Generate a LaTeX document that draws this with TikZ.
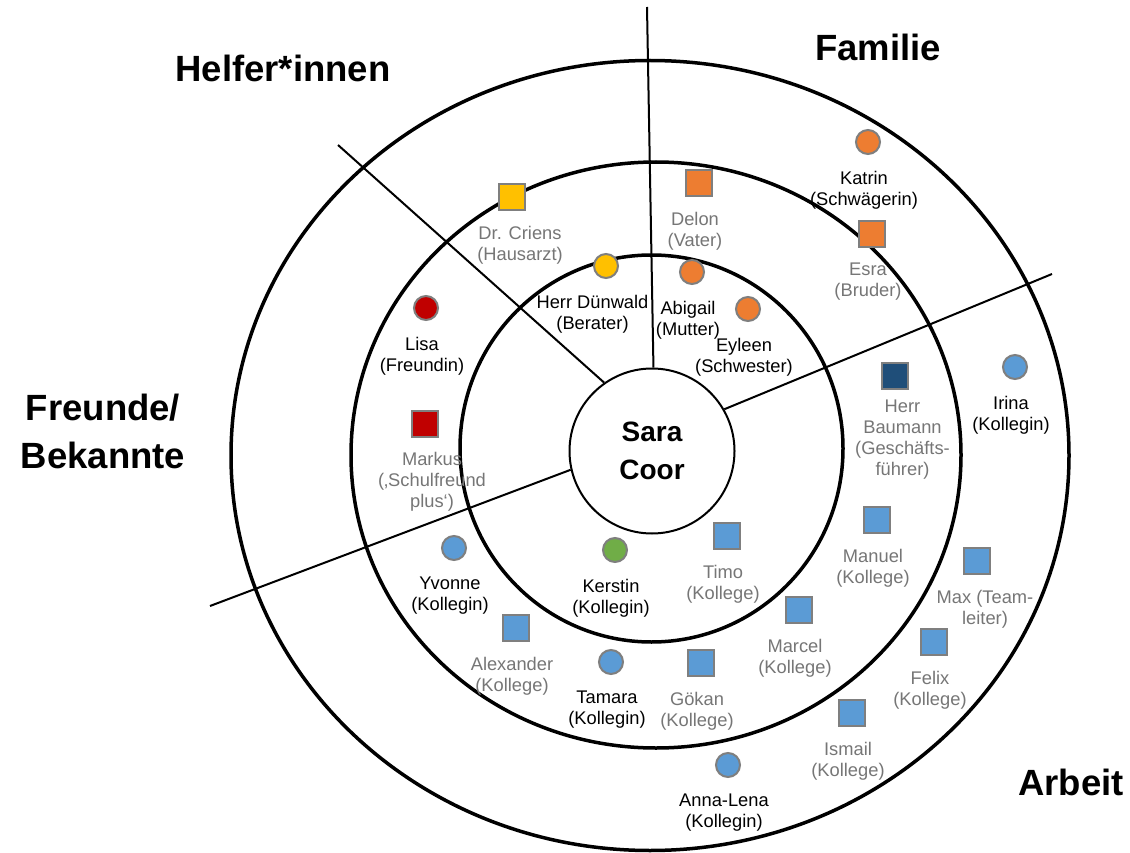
\documentclass[tikz,border=0pt]{standalone}
\usepackage{fontspec}
\setmainfont{Liberation Sans}
\definecolor{famorange}{HTML}{ED7D31}
\definecolor{helpyellow}{HTML}{FFC000}
\definecolor{friendred}{HTML}{C00000}
\definecolor{workblue}{HTML}{5B9BD5}
\definecolor{bossblue}{HTML}{1F4E79}
\definecolor{kerstingreen}{HTML}{70AD47}
\definecolor{outlinegray}{HTML}{7F7F7F}
\definecolor{labelgray}{HTML}{767676}

\begin{document}
\begin{tikzpicture}[
    x=1pt, y=-1pt,
    node distance=48pt,
    ring/.style={draw, line width=3.5pt},
    divider/.style={draw, line width=2pt},
    person circle/.style={circle, draw=outlinegray, line width=2pt, minimum size=24pt, inner sep=0pt},
    person square/.style={rectangle, draw=outlinegray, line width=2pt, minimum size=26.5pt, inner sep=0pt},
    name label/.style={align=center, inner sep=0pt, xshift=-4pt, font=\fontsize{18.3}{21}\selectfont},
    gray label/.style={name label, text=labelgray},
    heading/.style={align=center, inner sep=0pt, font=\fontsize{36.5}{48}\selectfont\bfseries}]

  \path[use as bounding box, fill=white] (0,0) rectangle (1130,853);

  \draw[ring] (651.5,448.5) ellipse [x radius=191.5, y radius=193.5];
  \draw[ring] (656,455) ellipse [x radius=305, y radius=293];
  \draw[ring] (650,455.5) ellipse [x radius=419, y radius=395];

  \node[circle, draw, line width=2pt, fill=white, minimum size=165pt, inner sep=0pt,
        align=center, font=\fontsize{28}{38}\selectfont\bfseries] (SaraCoor) at (652,451) {Sara\\Coor};

  \coordinate (FamilieEnd) at (647,7);
  \coordinate (HelferEnd) at (338,145);
  \coordinate (ArbeitEnd) at (1052,274);
  \coordinate (FreundeEnd) at (210,606);

  \path[divider]
    (SaraCoor.89) edge (FamilieEnd)
    (SaraCoor.125) edge (HelferEnd)
    (SaraCoor.30) edge (ArbeitEnd)
    (SaraCoor.193) edge (FreundeEnd);

  \node[heading] (HelferHeading) at (283,68) {Helfer*innen};
  \node[heading] (FamilieHeading) at (878,47) {Familie};
  \node[heading] (FreundeHeading) at (103,431) {Freunde/\\Bekannte};
  \node[heading] (ArbeitHeading) at (1071,782) {Arbeit};

  \node[person square, fill=helpyellow] (Criens) at (512,197) {};
  \node[gray label, xshift=12pt] (CriensText) [below of=Criens] {Dr. Criens\\(Hausarzt)};
  \node[person circle, fill=helpyellow] (Duenwald) at (606,266) {};
  \node[name label, xshift=-9.5pt] (DuenwaldText) [below of=Duenwald] {Herr Dünwald\\(Berater)};

  \node[person circle, fill=friendred] (Lisa) at (426,308) {};
  \node[name label] (LisaText) [below of=Lisa] {Lisa\\(Freundin)};
  \node[person square, fill=friendred] (Markus) at (425,424) {};
  \node[gray label, node distance=58pt, xshift=11pt] (MarkusText) [below of=Markus] {Markus\\(‚Schulfreund\\plus‘)};

  \node[person circle, fill=famorange] (Katrin) at (868,142) {};
  \node[name label] (KatrinText) [below of=Katrin] {Katrin\\(Schwägerin)};
  \node[person square, fill=famorange] (Delon) at (699,183) {};
  \node[gray label] (DelonText) [below of=Delon] {Delon\\(Vater)};
  \node[person square, fill=famorange] (Esra) at (872,234) {};
  \node[gray label] (EsraText) [below of=Esra] {Esra\\(Bruder)};
  \node[person circle, fill=famorange] (Abigail) at (692,272) {};
  \node[name label] (AbigailText) [below of=Abigail] {Abigail\\(Mutter)};
  \node[person circle, fill=famorange] (Eyleen) at (748,309) {};
  \node[name label] (EyleenText) [below of=Eyleen] {Eyleen\\(Schwester)};

  \node[person square, fill=bossblue] (Baumann) at (895,376) {};
  \node[gray label, node distance=64pt, xshift=11.5pt] (BaumannText) [below of=Baumann] {Herr\\Baumann\\(Geschäfts-\\führer)};
  \node[person circle, fill=workblue] (Irina) at (1015,367) {};
  \node[name label] (IrinaText) [below of=Irina] {Irina\\(Kollegin)};
  \node[person circle, fill=workblue] (Yvonne) at (454,548) {};
  \node[name label] (YvonneText) [below of=Yvonne] {Yvonne\\(Kollegin)};
  \node[person square, fill=workblue] (Alexander) at (516,628) {};
  \node[gray label] (AlexanderText) [below of=Alexander] {Alexander\\(Kollege)};
  \node[person circle, fill=kerstingreen] (Kerstin) at (615,550) {};
  \node[name label] (KerstinText) [below of=Kerstin] {Kerstin\\(Kollegin)};
  \node[person square, fill=workblue] (Timo) at (727,536) {};
  \node[gray label] (TimoText) [below of=Timo] {Timo\\(Kollege)};
  \node[person square, fill=workblue] (Manuel) at (877,520) {};
  \node[gray label] (ManuelText) [below of=Manuel] {Manuel\\(Kollege)};
  \node[person square, fill=workblue] (Max) at (977,561) {};
  \node[gray label, xshift=12pt] (MaxText) [below of=Max] {Max (Team-\\leiter)};
  \node[person square, fill=workblue] (Marcel) at (799,610) {};
  \node[gray label] (MarcelText) [below of=Marcel] {Marcel\\(Kollege)};
  \node[person square, fill=workblue] (Felix) at (934,642) {};
  \node[gray label] (FelixText) [below of=Felix] {Felix\\(Kollege)};
  \node[person circle, fill=workblue] (Tamara) at (611,662) {};
  \node[name label] (TamaraText) [below of=Tamara] {Tamara\\(Kollegin)};
  \node[person square, fill=workblue] (Goekan) at (701,663) {};
  \node[gray label] (GoekanText) [below of=Goekan] {Gökan\\(Kollege)};
  \node[person square, fill=workblue] (Ismail) at (852,713) {};
  \node[gray label] (IsmailText) [below of=Ismail] {Ismail\\(Kollege)};
  \node[person circle, fill=workblue] (AnnaLena) at (728,765) {};
  \node[name label] (AnnaLenaText) [below of=AnnaLena] {Anna-Lena\\(Kollegin)};
\end{tikzpicture}
\end{document}
